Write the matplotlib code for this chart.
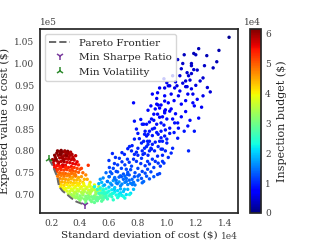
import numpy as np
import matplotlib
matplotlib.use("Agg")
import matplotlib.pyplot as plt

# Units: std in 1e4 $, mean in 1e5 $, budget in 1e4 $
# (std, mean, budget) per region of the cloud
dark_red = [(0.24,0.795,6.1),(0.26,0.798,6.0),(0.28,0.797,6.1),(0.30,0.796,5.9),(0.32,0.794,6.0),
            (0.25,0.790,6.0),(0.27,0.791,6.1),(0.29,0.789,5.9),(0.31,0.788,6.0),(0.33,0.790,5.9),
            (0.35,0.786,5.8),(0.23,0.785,6.0),(0.26,0.784,5.9),(0.28,0.783,6.0),(0.30,0.782,5.9),
            (0.32,0.781,5.8),(0.34,0.780,5.8),(0.36,0.779,5.7),(0.22,0.778,6.0),(0.24,0.777,5.9),
            (0.27,0.776,5.8),(0.29,0.775,5.9),(0.31,0.774,5.7),(0.33,0.773,5.7),(0.35,0.771,5.6),
            (0.37,0.770,5.6),(0.215,0.772,5.8),(0.25,0.770,5.7),(0.28,0.768,5.7),(0.30,0.767,5.6),
            (0.265,0.793,6.2),(0.295,0.800,6.0),(0.315,0.799,6.1),(0.275,0.786,6.0),(0.345,0.792,5.9),
            (0.235,0.781,6.1),(0.255,0.774,5.9),(0.325,0.785,5.9),(0.285,0.779,6.0),(0.305,0.790,6.1),
            (0.225,0.790,6.1),(0.245,0.800,6.1),(0.27,0.801,6.2),(0.31,0.795,6.0),(0.335,0.797,5.9),
            (0.355,0.782,5.8),(0.37,0.789,5.8),(0.38,0.775,5.6),(0.21,0.780,6.0)]
red = [(0.22,0.768,5.6),(0.24,0.766,5.5),(0.26,0.765,5.5),(0.28,0.764,5.6),(0.30,0.763,5.4),
       (0.32,0.762,5.4),(0.34,0.764,5.5),(0.36,0.762,5.3),(0.38,0.760,5.2),(0.23,0.760,5.4),
       (0.25,0.758,5.3),(0.27,0.757,5.3),(0.29,0.756,5.2),(0.31,0.757,5.2),(0.33,0.755,5.1),
       (0.35,0.754,5.1),(0.37,0.753,5.0),(0.225,0.762,5.5),(0.24,0.752,5.0),(0.26,0.750,5.0),
       (0.28,0.749,4.9),(0.30,0.748,5.0),(0.32,0.747,4.9),(0.34,0.748,4.9),(0.36,0.746,4.8),
       (0.39,0.751,5.0),(0.235,0.755,5.3),(0.265,0.762,5.4),(0.305,0.760,5.3),(0.345,0.759,5.2),
       (0.457,0.767,5.3),(0.40,0.758,5.1),(0.39,0.768,5.4),(0.41,0.760,5.2),(0.42,0.750,4.9)]
orange = [(0.25,0.745,4.9),(0.27,0.744,4.8),(0.29,0.742,4.8),(0.31,0.743,4.7),(0.33,0.741,4.7),
          (0.35,0.740,4.6),(0.37,0.742,4.7),(0.39,0.739,4.5),(0.41,0.741,4.6),(0.26,0.737,4.7),
          (0.28,0.736,4.6),(0.30,0.735,4.6),(0.32,0.734,4.5),(0.34,0.736,4.5),(0.36,0.733,4.4),
          (0.38,0.734,4.4),(0.40,0.732,4.3),(0.43,0.735,4.4),(0.255,0.730,4.6),(0.275,0.729,4.5),
          (0.295,0.728,4.4),(0.315,0.727,4.4),(0.335,0.728,4.3),(0.355,0.726,4.3),(0.375,0.727,4.2),
          (0.395,0.725,4.2),(0.42,0.728,4.3),(0.285,0.748,4.9),(0.325,0.746,4.8),(0.365,0.747,4.8),
          (0.44,0.745,4.7),(0.345,0.750,4.9),(0.37,0.744,4.8),(0.245,0.742,4.8),(0.26,0.725,4.4),
          (0.45,0.735,4.5),(0.47,0.728,4.2),(0.50,0.722,3.9),(0.53,0.718,3.7)]
yellow = [(0.27,0.722,4.2),(0.29,0.721,4.2),(0.31,0.723,4.1),(0.33,0.720,4.1),(0.35,0.722,4.1),
          (0.37,0.719,4.0),(0.39,0.721,4.0),(0.41,0.718,4.0),(0.43,0.720,3.9),(0.45,0.717,3.9),
          (0.47,0.719,3.8),(0.49,0.716,3.8),(0.28,0.715,4.0),(0.30,0.714,4.0),(0.32,0.716,3.9),
          (0.34,0.713,3.9),(0.36,0.715,3.9),(0.38,0.712,3.8),(0.40,0.714,3.8),(0.42,0.711,3.8),
          (0.44,0.713,3.7),(0.46,0.710,3.7),(0.48,0.712,3.6),(0.50,0.711,3.6),(0.52,0.709,3.5),
          (0.31,0.708,3.8),(0.33,0.707,3.7),(0.35,0.709,3.7),(0.37,0.706,3.6),(0.39,0.708,3.6),
          (0.41,0.705,3.5),(0.43,0.707,3.5),(0.45,0.704,3.4),(0.47,0.706,3.4),(0.51,0.705,3.3),
          (0.54,0.710,3.2),(0.265,0.718,4.1),(0.385,0.724,4.1),(0.425,0.725,4.0),(0.465,0.723,3.9),
          (0.29,0.710,3.9),(0.48,0.708,3.5),(0.56,0.712,3.0)]
green = [(0.34,0.700,3.4),(0.36,0.698,3.3),(0.38,0.701,3.3),(0.40,0.697,3.2),(0.42,0.699,3.2),
         (0.44,0.696,3.1),(0.46,0.698,3.1),(0.48,0.695,3.0),(0.50,0.697,3.0),(0.52,0.694,2.9),
         (0.54,0.696,2.9),(0.56,0.698,2.8),(0.58,0.700,2.7),(0.37,0.693,3.3),(0.39,0.691,3.2),
         (0.41,0.692,3.2),(0.43,0.690,3.1),(0.45,0.691,3.1),(0.47,0.688,3.0),(0.49,0.690,3.0),
         (0.51,0.689,2.9),(0.53,0.691,2.9),(0.55,0.692,2.8),(0.57,0.694,2.7),(0.60,0.697,2.6),
         (0.40,0.687,3.2),(0.44,0.686,3.1),(0.48,0.684,3.0),(0.52,0.686,2.9),(0.56,0.689,2.8),
         (0.47,0.702,3.5),(0.51,0.701,3.3),(0.62,0.702,2.6),(0.35,0.695,3.4),(0.32,0.701,3.6),
         (0.36,0.703,3.5),(0.38,0.695,3.3),(0.42,0.702,3.4),(0.46,0.693,3.1),(0.50,0.693,3.0),
         (0.54,0.700,2.9),(0.57,0.705,2.7),(0.44,0.680,3.0),(0.50,0.682,2.9),(0.55,0.685,2.8)]
cyan = [(0.52,0.712,2.5),(0.54,0.715,2.4),(0.56,0.710,2.4),(0.58,0.713,2.3),(0.60,0.708,2.3),
        (0.62,0.711,2.2),(0.64,0.706,2.2),(0.66,0.709,2.1),(0.68,0.704,2.1),(0.70,0.707,2.0),
        (0.53,0.703,2.6),(0.55,0.704,2.5),(0.57,0.702,2.5),(0.59,0.705,2.4),(0.61,0.700,2.4),
        (0.63,0.703,2.3),(0.65,0.699,2.3),(0.67,0.701,2.2),(0.69,0.698,2.2),(0.72,0.700,2.1),
        (0.50,0.718,2.3),(0.56,0.720,2.1),(0.60,0.717,2.0),(0.64,0.716,2.0),(0.68,0.713,1.9),
        (0.73,0.712,1.9),(0.58,0.694,2.6),(0.62,0.695,2.5),(0.66,0.693,2.4),(0.70,0.696,2.3),
        (0.59,0.690,2.6),(0.63,0.688,2.5),(0.67,0.697,2.3),(0.71,0.692,2.3),(0.75,0.703,2.1),
        (0.77,0.712,1.9)]
light_blue = [(0.53,0.725,1.9),(0.55,0.728,1.9),(0.57,0.722,1.8),(0.59,0.730,1.8),(0.61,0.726,1.8),
              (0.63,0.732,1.7),(0.65,0.727,1.7),(0.67,0.729,1.7),(0.69,0.724,1.6),(0.71,0.728,1.6),
              (0.73,0.723,1.6),(0.75,0.726,1.5),(0.78,0.722,1.5),(0.56,0.738,1.6),(0.60,0.741,1.5),
              (0.64,0.739,1.5),(0.68,0.743,1.4),(0.72,0.737,1.4),(0.76,0.735,1.4),(0.80,0.733,1.4),
              (0.58,0.750,1.4),(0.62,0.748,1.3),(0.66,0.752,1.3),(0.70,0.747,1.3),(0.74,0.745,1.3),
              (0.54,0.735,1.7),(0.84,0.730,1.4),(0.88,0.736,1.3),(0.91,0.741,1.3),(0.95,0.748,1.2),
              (0.62,0.722,1.6),(0.65,0.733,1.5),(0.68,0.720,1.6),(0.71,0.742,1.4),(0.74,0.733,1.4),
              (0.77,0.728,1.45),(0.80,0.742,1.35),(0.83,0.727,1.4),(0.86,0.742,1.3)]
blue_low = [(0.603,0.762,1.2),(0.624,0.794,1.0),(0.638,0.771,1.1),(0.672,0.783,1.1),(0.707,0.792,1.0),
            (0.728,0.781,1.1),(0.756,0.800,1.0),(0.776,0.792,1.0),(0.790,0.776,1.1),(0.825,0.783,1.1),
            (0.846,0.794,1.0),(0.867,0.776,1.1),(0.900,0.781,1.1),(0.936,0.788,1.0),(0.970,0.776,1.1),
            (0.650,0.753,1.2),(0.686,0.760,1.2),(0.720,0.758,1.2),(0.756,0.765,1.2),(0.800,0.760,1.2),
            (0.830,0.753,1.2),(0.867,0.758,1.2),(0.936,0.746,1.2),(0.603,0.741,1.4),(0.638,0.737,1.4),
            (0.686,0.741,1.3),(0.728,0.746,1.3),(0.776,0.741,1.3),(0.825,0.737,1.3),(0.589,0.730,1.5),
            (0.658,0.725,1.5),(0.720,0.730,1.5),(0.762,0.723,1.5),(0.638,0.712,2.0),(0.707,0.712,1.9),
            (0.742,0.700,2.3),(0.61,0.752,1.3),(0.63,0.760,1.2),(0.66,0.768,1.15),(0.69,0.775,1.1),
            (0.71,0.768,1.15),(0.74,0.774,1.1),(0.77,0.781,1.05),(0.80,0.790,1.0),(0.82,0.771,1.1),
            (0.85,0.766,1.1),(0.88,0.770,1.1),(0.91,0.762,1.15),(0.94,0.772,1.1),(0.97,0.790,1.0),
            (0.99,0.800,1.0),(0.67,0.740,1.35),(0.70,0.735,1.4),(0.73,0.751,1.3),(0.75,0.757,1.25),
            (0.78,0.750,1.25),(0.81,0.745,1.3),(0.85,0.749,1.25),(0.89,0.752,1.2),(0.60,0.778,1.1),
            (0.645,0.785,1.05),(0.69,0.796,1.0),(0.73,0.805,0.95),(0.76,0.812,0.95),(0.79,0.797,1.0),
            (0.835,0.792,1.0),(0.87,0.790,1.0),(0.92,0.776,1.05),(0.955,0.765,1.1),(0.98,0.772,1.1),
            (1.01,0.785,1.05),(1.03,0.795,1.0)]
blue_mid = [(0.790,0.850,0.9),(0.830,0.861,0.9),(0.800,0.840,0.9),(0.846,0.838,0.9),(0.880,0.845,0.9),
            (0.915,0.852,0.9),(0.960,0.864,0.85),(1.000,0.873,0.85),(0.985,0.891,0.8),(1.020,0.891,0.8),
            (0.936,0.884,0.8),(0.894,0.873,0.85),(1.054,0.864,0.85),(0.776,0.827,0.95),(0.825,0.818,0.95),
            (0.867,0.822,0.95),(0.900,0.815,0.95),(0.950,0.822,0.95),(1.000,0.827,0.95),(0.742,0.810,1.0),
            (0.800,0.806,1.0),(0.846,0.806,1.0),(0.894,0.804,1.0),(0.960,0.804,1.0),(0.776,0.868,0.85),
            (0.930,0.907,0.75),(0.950,0.898,0.75),(0.985,0.914,0.75),(0.900,0.930,0.7),(0.936,0.933,0.7),
            (0.770,0.910,0.8),(0.81,0.828,0.95),(0.84,0.822,0.95),(0.87,0.838,0.9),(0.90,0.835,0.9),
            (0.93,0.842,0.9),(0.96,0.830,0.9),(0.99,0.848,0.85),(1.05,0.842,0.9),(1.08,0.852,0.85),
            (0.82,0.872,0.85),(0.88,0.866,0.85),(0.91,0.870,0.85),(0.97,0.878,0.8),(1.06,0.885,0.8),
            (1.10,0.878,0.8),(1.13,0.890,0.75),(1.16,0.870,0.8),(0.87,0.893,0.8),(0.92,0.896,0.8)]
blue_high = [(0.95,0.944,0.65),(1.01,0.949,0.65),(1.14,0.947,0.6),(1.17,0.942,0.6),(1.09,0.937,0.65),
             (1.08,0.926,0.65),(0.985,0.926,0.7),(1.145,0.930,0.65),(1.18,0.930,0.6),(1.25,0.926,0.6),
             (1.10,0.907,0.75),(1.18,0.910,0.7),(1.19,0.903,0.7),(0.89,0.903,0.8),(0.94,0.905,0.75),
             (0.99,0.894,0.75),(0.985,0.887,0.8),(1.03,0.896,0.75),(0.91,0.884,0.8),(0.95,0.877,0.8),
             (1.04,0.873,0.8),(1.075,0.864,0.85),(1.145,0.857,0.85),(1.22,0.875,0.8),(0.84,0.861,0.85),
             (0.86,0.861,0.85),(0.93,0.861,0.85),(0.98,0.859,0.85),(1.02,0.852,0.85),(1.12,0.845,0.9),
             (0.85,0.845,0.9),(0.90,0.850,0.9),(0.96,0.845,0.9),(1.02,0.840,0.9),(0.86,0.834,0.9),
             (0.94,0.838,0.9),(0.985,0.834,0.9),(1.075,0.829,0.9),(0.88,0.822,0.95),(0.92,0.820,0.95),
             (0.97,0.822,0.95),(1.00,0.818,0.95),(0.86,0.810,1.0),(0.89,0.806,1.0),(0.94,0.810,1.0),
             (0.83,0.800,1.0),(0.88,0.800,1.0),(0.915,0.800,1.0),(0.97,0.804,1.0),(1.04,0.806,1.0),
             (0.87,0.815,1.0),(1.15,0.800,1.0),(1.19,0.845,0.9),(0.96,0.905,0.75),(1.01,0.910,0.75),
             (1.05,0.915,0.7),(1.13,0.915,0.7),(1.21,0.918,0.7),(0.93,0.920,0.7),(1.03,0.930,0.65),
             (1.24,0.900,0.65)]
navy = [(1.43,1.060,0.1),(1.22,1.034,0.3),(1.186,1.023,0.3),(1.20,1.020,0.35),(1.276,1.018,0.3),
        (1.075,1.009,0.4),(1.11,1.000,0.4),(1.17,1.000,0.4),(1.17,0.995,0.4),(1.345,1.004,0.3),
        (1.32,0.990,0.35),(1.186,0.986,0.45),(1.14,0.979,0.45),(1.17,0.977,0.45),(1.15,0.972,0.5),
        (1.25,0.967,0.45),(1.09,0.972,0.5),(1.13,0.960,0.5),(1.23,0.960,0.5),(1.07,0.949,0.55),
        (1.13,0.947,0.55),(1.04,0.972,0.5),(0.985,0.944,0.6),(1.054,0.944,0.6),(1.00,0.956,0.6),
        (1.02,0.949,0.6),(1.30,0.935,0.5),(1.06,0.958,0.6),(1.11,0.955,0.55),(1.20,0.950,0.55),
        (1.16,0.962,0.5),(1.21,0.985,0.45),(1.26,0.995,0.4),(1.10,0.988,0.45),(1.28,0.945,0.5),
        (0.98,0.965,0.6),(1.36,1.030,0.25),(1.12,1.020,0.35)]

frontier_std = [0.186, 0.207, 0.225, 0.242, 0.256, 0.280, 0.304, 0.340, 0.374, 0.405, 0.436]
frontier_mean = [0.781, 0.769, 0.755, 0.741, 0.718, 0.708, 0.702, 0.692, 0.684, 0.680, 0.677]
min_sharpe = (0.436, 0.677)
min_vol = (0.186, 0.781)

STD_UNIT, MEAN_UNIT, BUDGET_UNIT = 1e4, 1e5, 1e4

plt.rcParams.update({
    "font.family": ["DejaVu Serif"],
    "text.color": ".15", "axes.labelcolor": ".15",
    "xtick.color": ".25", "ytick.color": ".25",
    "axes.edgecolor": ".15", "axes.linewidth": 1.25,
})

pts = np.array(dark_red + red + orange + yellow + green + cyan + light_blue
               + blue_low + blue_mid + blue_high + navy)
std = pts[:, 0] * STD_UNIT
mean = pts[:, 1] * MEAN_UNIT
budget = pts[:, 2] * BUDGET_UNIT

fig = plt.figure(figsize=(3.2, 2.4), dpi=100)
ax = fig.add_axes([0.125, 0.1125, 0.619, 0.767])
cax = fig.add_axes([0.781, 0.1125, 0.034, 0.767])

sc = ax.scatter(std, mean, c=budget, cmap="jet", vmin=0, vmax=6.17e4, s=6, linewidths=0)
ax.plot(np.array(frontier_std) * STD_UNIT, np.array(frontier_mean) * MEAN_UNIT, "--",
        color="dimgray", lw=1.4, label="Pareto Frontier")
ax.plot([min_sharpe[0] * STD_UNIT], [min_sharpe[1] * MEAN_UNIT], ls="none", marker="1",
        color="#7a3b9e", ms=6, mew=1.1, label="Min Sharpe Ratio")
ax.plot([min_vol[0] * STD_UNIT], [min_vol[1] * MEAN_UNIT], ls="none", marker="2",
        color="#2e8b2e", ms=6, mew=1.1, label="Min Volatility")

ax.ticklabel_format(style="sci", scilimits=(0, 0))
ax.tick_params(length=0, labelsize=6.5, pad=4)
ax.xaxis.get_offset_text().set_fontsize(6.5)
ax.yaxis.get_offset_text().set_fontsize(6.5)
ax.set_xlabel("Standard deviation of cost ($)", fontsize=7.5, labelpad=2)
ax.set_ylabel("Expected value of cost ($)", fontsize=8, labelpad=3)
ax.legend(loc="upper left", fontsize=7.5, frameon=True, edgecolor=".8", handlelength=2)

cb = fig.colorbar(sc, cax=cax)
cb.formatter.set_powerlimits((0, 0))
cb.update_ticks()
cb.ax.tick_params(length=0, labelsize=6.5, pad=3)
cb.ax.yaxis.get_offset_text().set_fontsize(6.5)
cb.set_label("Inspection budget ($)", fontsize=8)
cb.outline.set_edgecolor(".15")

fig.savefig("out.png", dpi=100)
